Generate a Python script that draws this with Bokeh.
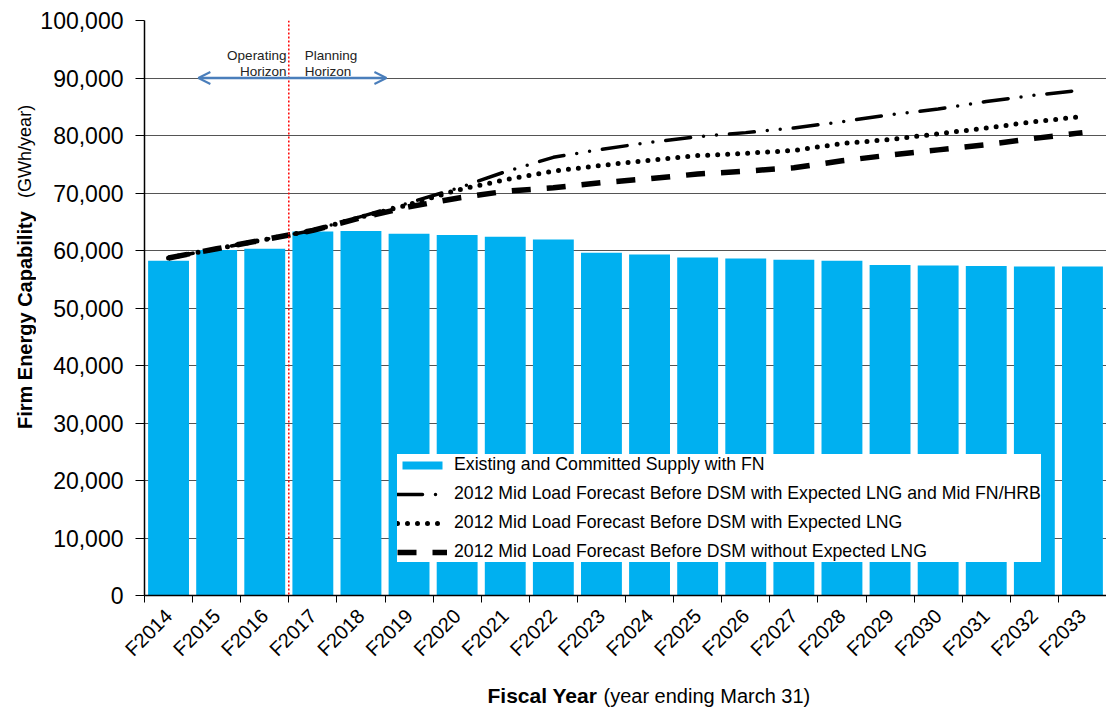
import math
from bokeh.plotting import figure
from bokeh.layouts import gridplot
from bokeh.models import (ColumnDataSource, FixedTicker, NumeralTickFormatter, Legend,
                          LegendItem, Label, Arrow, OpenHead, Span, Range1d)
from bokeh.embed import file_html
from bokeh.resources import INLINE

# ---------------- data ----------------
years = ["F2014", "F2015", "F2016", "F2017", "F2018", "F2019", "F2020", "F2021", "F2022", "F2023",
         "F2024", "F2025", "F2026", "F2027", "F2028", "F2029", "F2030", "F2031", "F2032", "F2033"]
supply = [58200, 60100, 60300, 63300, 63400, 62900, 62700, 62400, 61900, 59600,
          59300, 58800, 58600, 58400, 58200, 57500, 57400, 57300, 57200, 57200]
load_lng_fn = [58700, 60300, 61900, 63500, 65900, 68300, 70800, 73700, 76200, 77600,
               78800, 79800, 80500, 81300, 82400, 83600, 84600, 85900, 87000, 87900]
load_lng = [58700, 60300, 61900, 63500, 65800, 68000, 70500, 72300, 73800, 74800,
            75700, 76500, 76900, 77400, 78600, 79300, 80300, 81300, 82400, 83300]
load_no_lng = [58700, 60300, 61900, 63500, 65700, 67600, 69100, 70300, 70900, 71800,
               72500, 73300, 73800, 74400, 75600, 76600, 77500, 78400, 79500, 80500]
y_ticks = [0, 10000, 20000, 30000, 40000, 50000, 60000, 70000, 80000, 90000, 100000]

legend_labels = ["Existing and Committed Supply with FN",
                 "2012 Mid Load Forecast Before DSM with Expected LNG and Mid FN/HRB",
                 "2012 Mid Load Forecast Before DSM with Expected LNG",
                 "2012 Mid Load Forecast Before DSM without Expected LNG"]

FONT = "Liberation Sans"
W, H = 1106, 711
YT_W = 36          # width of the strip holding the y-axis title
XT_H = 40          # height of the strip holding the x-axis title
MAIN_H = H - XT_H
FRAME_L, FRAME_T, FRAME_B = 144, 20, 597   # main plot frame, canvas pixels

xs = list(range(len(years)))
src = ColumnDataSource(dict(x=xs, supply=supply, a=load_lng_fn, b=load_lng, c=load_no_lng))

p = figure(width=W - YT_W, height=MAIN_H, output_backend="svg", toolbar_location=None,
           x_range=Range1d(-0.5, len(years) - 0.5), y_range=Range1d(0, 100000),
           min_border_left=FRAME_L - YT_W, min_border_right=0, min_border_top=FRAME_T,
           min_border_bottom=MAIN_H - FRAME_B)
p.outline_line_color = None
p.background_fill_color = "white"
p.border_fill_color = "white"

bars = p.vbar(x="x", top="supply", width=0.85, source=src, fill_color="#00B0F0", line_color=None)
l1 = p.line("x", "a", source=src, line_color="black", line_width=3.5,
            line_dash="25 13 0 13 0 13", line_cap="round")
l2 = p.line("x", "b", source=src, line_color="black", line_width=5,
            line_dash="0 10", line_cap="round")
l3 = p.line("x", "c", source=src, line_color="black", line_width=5.5,
            line_dash="19 16")

# operating / planning horizon boundary
p.add_layout(Span(location=2.5, dimension="height", line_color="red",
                  line_dash="2 2", line_width=1.5))
p.add_layout(Arrow(start=OpenHead(size=12, line_color="#4a7ebb", line_width=2),
                   end=OpenHead(size=12, line_color="#4a7ebb", line_width=2),
                   x_start=0.62, x_end=4.53, y_start=90000, y_end=90000,
                   line_color="#4a7ebb", line_width=2.5))
for txt, xx, yy, al in [("Operating", 2.45, 93900, "right"), ("Horizon", 2.45, 91100, "right"),
                        ("Planning", 2.83, 93900, "left"), ("Horizon", 2.83, 91100, "left")]:
    p.add_layout(Label(x=xx, y=yy, text=txt, text_align=al, text_baseline="middle",
                       text_font=FONT, text_font_size="13.5px", text_color="#222222"))

# axes
p.xgrid.visible = False
p.ygrid.grid_line_color = "#555555"
p.ygrid.grid_line_width = 1

p.xaxis.ticker = FixedTicker(ticks=xs, minor_ticks=[i - 0.5 for i in range(len(years) + 1)])
p.xaxis.major_label_overrides = {i: years[i] for i in xs}
p.xaxis.major_tick_out = 0
p.xaxis.major_tick_in = 0
p.xaxis.minor_tick_out = 7
p.xaxis.minor_tick_in = 0
p.xaxis.minor_tick_line_color = "black"
p.xaxis.major_label_orientation = math.pi / 4
p.xaxis.major_label_text_font = FONT
p.xaxis.major_label_text_font_size = "20px"
p.xaxis.major_label_text_color = "black"
p.xaxis.major_label_standoff = 10
p.xaxis.axis_line_color = "black"
p.xaxis.axis_line_width = 1.5

p.yaxis.ticker = FixedTicker(ticks=y_ticks)
p.yaxis.formatter = NumeralTickFormatter(format="0,0")
p.yaxis.major_tick_out = 9
p.yaxis.major_tick_in = 0
p.yaxis.minor_tick_line_color = None
p.yaxis.major_label_text_font = FONT
p.yaxis.major_label_text_font_size = "23px"
p.yaxis.major_label_text_color = "black"
p.yaxis.major_label_standoff = 12
p.yaxis.axis_line_color = "black"
p.yaxis.axis_line_width = 1.5

legend = Legend(items=[LegendItem(label=legend_labels[0], renderers=[bars]),
                       LegendItem(label=legend_labels[1], renderers=[l1]),
                       LegendItem(label=legend_labels[2], renderers=[l2]),
                       LegendItem(label=legend_labels[3], renderers=[l3])],
                location=(253, 33), label_text_font=FONT, label_text_font_size="17.7px",
                label_text_color="black", glyph_width=50, glyph_height=10,
                label_standoff=7, spacing=8, padding=7, margin=0,
                border_line_color=None, background_fill_color="white",
                background_fill_alpha=1.0)
p.add_layout(legend)

# ---- y-axis title strip: its frame is aligned with the main frame (rows share borders) ----
# data y = MAIN_H - canvas_y
yt = figure(width=YT_W, height=MAIN_H, output_backend="svg", toolbar_location=None,
            x_range=Range1d(0, YT_W), y_range=Range1d(MAIN_H - FRAME_B, MAIN_H - FRAME_T),
            x_axis_location=None, y_axis_location=None,
            min_border_left=0, min_border_right=0, min_border_top=0, min_border_bottom=0)
yt.grid.visible = False
yt.outline_line_color = None
yt.add_layout(Label(x=24, y=MAIN_H - 430, text="Firm Energy Capability", angle=math.pi / 2,
                    text_align="left", text_baseline="middle", text_font=FONT,
                    text_font_size="20px", text_font_style="bold", text_color="black"))
yt.add_layout(Label(x=24, y=MAIN_H - 198, text="(GWh/year)", angle=math.pi / 2,
                    text_align="left", text_baseline="middle", text_font=FONT,
                    text_font_size="18px", text_color="black"))

# ---- x-axis title strip: its frame is aligned horizontally with the main frame ----
# data x = canvas_x, data y = H - canvas_y
xt = figure(width=W - YT_W, height=XT_H, output_backend="svg", toolbar_location=None,
            x_range=Range1d(FRAME_L, W), y_range=Range1d(0, XT_H),
            x_axis_location=None, y_axis_location=None,
            min_border_left=0, min_border_right=0, min_border_top=0, min_border_bottom=0)
xt.grid.visible = False
xt.outline_line_color = None
xt.add_layout(Label(x=487, y=H - 695, text="Fiscal Year", text_align="left",
                    text_baseline="middle", text_font=FONT, text_font_size="21px",
                    text_font_style="bold", text_color="black"))
xt.add_layout(Label(x=603, y=H - 695, text="(year ending March 31)", text_align="left",
                    text_baseline="middle", text_font=FONT, text_font_size="20px",
                    text_color="black"))

layout = gridplot([[yt, p], [None, xt]], toolbar_location=None)
open("out.html", "w").write(file_html(layout, INLINE))
